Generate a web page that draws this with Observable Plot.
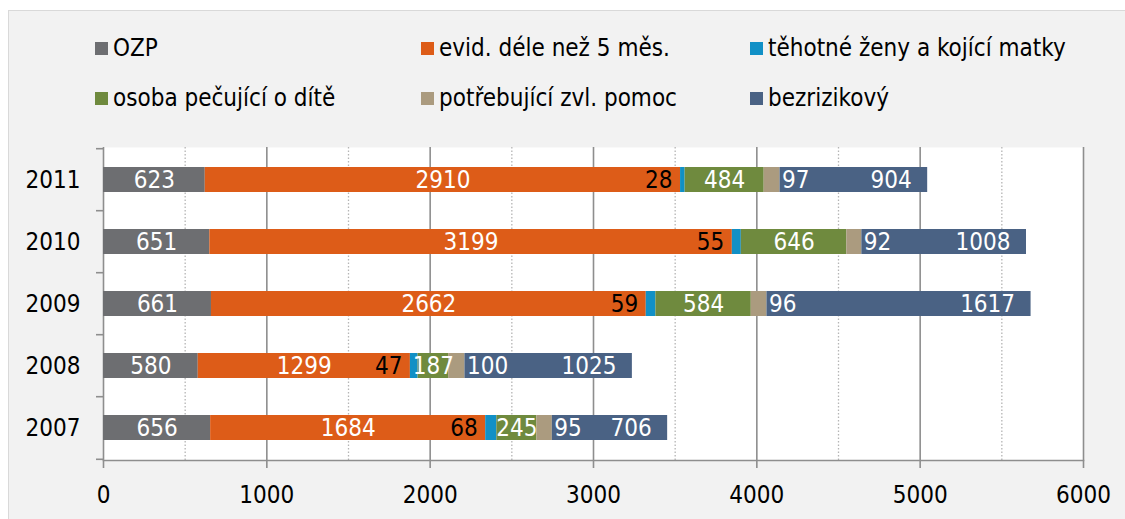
<!DOCTYPE html>
<html><head><meta charset="utf-8">
<script src="https://cdn.jsdelivr.net/npm/d3@7"></script>
<script src="https://cdn.jsdelivr.net/npm/@observablehq/plot@0.6"></script>
<style>
body{margin:0;background:#fff;}
#wrap{position:relative;width:1125px;height:519px;overflow:hidden;font-family:"Liberation Sans Narrow","DejaVu Sans Condensed",sans-serif;}
#panel{position:absolute;left:8px;top:10px;width:1200px;height:600px;background:#f2f2f2;border:1px solid #d9d9d9;}
#chart{position:absolute;left:0;top:0;}
.leg{position:absolute;display:flex;align-items:center;font-size:24px;color:#000;white-space:nowrap;transform:translateY(-50%);}
.sw{width:13px;height:13px;margin-right:5px;flex:none;}
</style></head>
<body><div id="wrap"><div id="panel"></div><div id="legend"></div><div id="chart"></div></div>
<script>
// ---- data ----
const years = ["2011", "2010", "2009", "2008", "2007"];
const seriesNames = ["OZP", "evid. déle než 5 měs.", "těhotné ženy a kojící matky", "osoba pečující o dítě", "potřebující zvl. pomoc", "bezrizikový"];
const seriesColors = ["#6d6e71", "#dd5c18", "#1190c6", "#6f8a3e", "#ab9b7f", "#4a6284"];
const valuesOZP = [623, 651, 661, 580, 656];
const valuesEvid = [2910, 3199, 2662, 1299, 1684];
const valuesTehotne = [28, 55, 59, 47, 68];
const valuesOsoba = [484, 646, 584, 187, 245];
const valuesPotrebujici = [97, 92, 96, 100, 95];
const valuesBezrizikovy = [904, 1008, 1617, 1025, 706];
const xTicks = [0, 1000, 2000, 3000, 4000, 5000, 6000];
const xHalfTicks = [500, 1500, 2500, 3500, 4500, 5500];

// ---- build table ----
const seriesValues = [valuesOZP, valuesEvid, valuesTehotne, valuesOsoba, valuesPotrebujici, valuesBezrizikovy];
const table = [];
years.forEach((y, i) => seriesNames.forEach((s, j) => table.push({year: y, series: s, value: seriesValues[j][i]})));

// ---- layout ----
const W = 1125, H = 519, mL = 103, mR = 42, mT = 147, mB = 59;
const FONT = '"Liberation Sans Narrow","DejaVu Sans Condensed",sans-serif';
const FS = 24;
const GRID = "#8e8e8e";
const halfStep = (H - mT - mB) / years.length / 2;

// ---- legend ----
const legCols = [95, 421, 750], legRows = [48, 98];
const legend = document.getElementById("legend");
seriesNames.forEach((s, j) => {
  const d = document.createElement("div");
  d.className = "leg";
  d.style.left = legCols[j % 3] + "px";
  d.style.top = legRows[Math.floor(j / 3)] + "px";
  d.innerHTML = `<span class="sw" style="background:${seriesColors[j]}"></span><span>${s}</span>`;
  legend.appendChild(d);
});

const stackOpts = {x: "value", y: "year", z: "series"};
const centerSet = new Set([seriesNames[0], seriesNames[1], seriesNames[3]]);

const chart = Plot.plot({
  width: W, height: H,
  marginLeft: mL, marginRight: mR, marginTop: mT, marginBottom: mB,
  style: {fontFamily: FONT, fontSize: FS + "px", background: "transparent", overflow: "visible"},
  x: {domain: [0, 6000], label: null},
  y: {domain: years, paddingInner: 0.6, paddingOuter: 0.3, label: null},
  color: {domain: seriesNames, range: seriesColors},
  marks: [
    Plot.frame({fill: "white", stroke: "none"}),
    Plot.ruleX(xHalfTicks, {stroke: "#b5b5b5", strokeWidth: 1.3, strokeDasharray: "1.5,2"}),
    Plot.ruleX(xTicks, {stroke: GRID, strokeWidth: 1.6}),
    Plot.frame({anchor: "bottom", stroke: GRID, strokeWidth: 1.6}),
    Plot.barX(table, Plot.stackX({...stackOpts, fill: "series"})),
    Plot.text(table, Plot.stackX({...stackOpts, text: d => centerSet.has(d.series) ? String(d.value) : "", fill: "white", fontSize: FS})),
    Plot.text(table, Plot.stackX1({...stackOpts, text: d => d.series === seriesNames[2] ? String(d.value) : "", fill: "black", fontSize: FS, textAnchor: "end", dx: -8})),
    Plot.text(table, Plot.stackX2({...stackOpts, text: d => d.series === seriesNames[4] ? String(d.value) : "", fill: "white", fontSize: FS, textAnchor: "start", dx: 2})),
    Plot.text(table, Plot.stackX2({...stackOpts, text: d => d.series === seriesNames[5] ? String(d.value) : "", fill: "white", fontSize: FS, textAnchor: "end", dx: -16})),
    Plot.axisY({tickSize: 0, tickPadding: 23, fontSize: FS, label: null}),
    Plot.axisY({tickSize: 7, stroke: GRID, strokeWidth: 1.6, tickFormat: () => "", dy: -halfStep, label: null}),
    Plot.axisY({ticks: [years[years.length - 1]], tickSize: 7, stroke: GRID, strokeWidth: 1.6, tickFormat: () => "", dy: halfStep, label: null}),
    Plot.axisX({ticks: xTicks, tickSize: 8, tickPadding: 17, tickFormat: d => String(d), stroke: GRID, strokeWidth: 1.6, fontSize: FS, label: null})
  ]
});
document.getElementById("chart").appendChild(chart);
</script>
</body></html>
